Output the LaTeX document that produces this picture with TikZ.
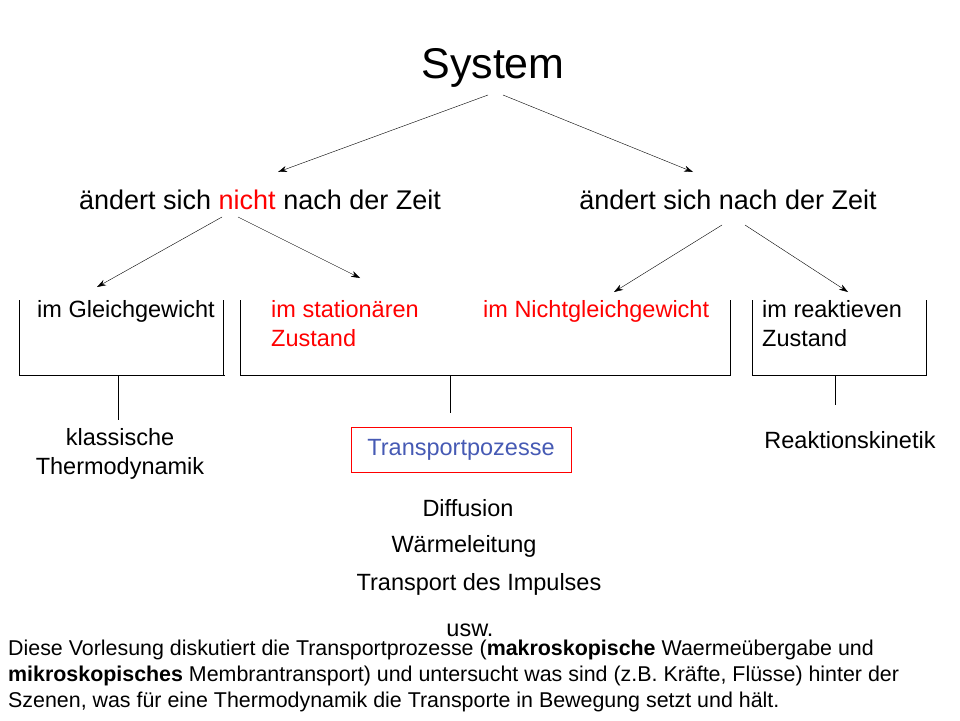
\documentclass[tikz,border=0pt]{standalone}
\usepackage{fontspec}
\setmainfont{Liberation Sans}
\usetikzlibrary{arrows.meta}
\definecolor{tpblue}{RGB}{70,90,180}
\tikzset{every node/.style={inner sep=0pt},
  arr/.style={-{Stealth[length=9pt,width=6pt]}, thin},
  brk/.style={thin},
  lbl/.style={font=\fontsize{23.5}{29}\selectfont, align=left, anchor=north west},
  sub/.style={font=\fontsize{23.5}{29}\selectfont, align=center}}
\begin{document}
\begin{tikzpicture}[x=1pt,y=-1pt]
\useasboundingbox (0,0) rectangle (960,720);
% top
\node[font=\fontsize{43}{48}\selectfont] (sys) at (493,68) {System};
\node[font=\fontsize{27}{32}\selectfont] (nicht) at (260,200) {ändert sich \textcolor{red}{nicht} nach der Zeit};
\node[font=\fontsize{27}{32}\selectfont] (zeit) at (728,200) {ändert sich nach der Zeit};
\coordinate (s1) at (488,95); \coordinate (s2) at (503,95);
\coordinate (n0) at (278,172); \coordinate (z0) at (693,172);
\draw[arr] (s1) -- (n0);
\draw[arr] (s2) -- (z0);
\coordinate (n1) at (222,217); \coordinate (n2) at (238,217);
\coordinate (z1) at (722,225); \coordinate (z2) at (745,225);
\coordinate (g0) at (97,287); \coordinate (st0) at (360,278);
\coordinate (ng0) at (614,292); \coordinate (r0) at (848,292);
\draw[arr] (n1) -- (g0);
\draw[arr] (n2) -- (st0);
\draw[arr] (z1) -- (ng0);
\draw[arr] (z2) -- (r0);
% brackets
\draw[brk] (19,300) -- (19,375) -- (225,375);
\draw[brk] (223,300) -- (223,375);
\draw[brk] (240,300) -- (240,375) -- (730,375) -- (730,300);
\draw[brk] (752,300) -- (752,375) -- (926,375) -- (926,300);
\draw[brk] (118,375) -- (118,420);
\draw[brk] (450,375) -- (450,413);
\draw[brk] (835,375) -- (835,405);
% states
\node[lbl] (gg) at (37,300) {im Gleichgewicht};
\node[lbl, text=red] (stat) at (271,300) {im stationären\\Zustand};
\node[lbl, text=red] (ngg) at (483,300) {im Nichtgleichgewicht};
\node[lbl] (reak) at (762,300) {im reaktieven\\Zustand};
% results
\node[sub] (klass) at (120,454) {klassische\\Thermodynamik};
\node[sub, draw=red, thick, text=tpblue, minimum width=220pt, minimum height=45pt] (trans) at (461,449.5) {Transportpozesse};
\node[sub] (rk) at (850,440) {Reaktionskinetik};
\node[sub] (diff) at (468,508) {Diffusion};
\node[sub] (waerm) at (464,546) {Wärmeleitung};
\node[sub] (imp) at (479,584) {Transport des Impulses};
\node[sub] (usw) at (470,630) {usw.};
% note
\node[anchor=north west, align=left, font=\fontsize{21.4}{26}\selectfont] (note) at (8,640)
 {Diese Vorlesung diskutiert die Transportprozesse (\textbf{makroskopische} Waermeübergabe und\\
  \textbf{mikroskopisches} Membrantransport) und untersucht was sind (z.B. Kräfte, Flüsse) hinter der\\
  Szenen, was für eine Thermodynamik die Transporte in Bewegung setzt und hält.};
\end{tikzpicture}
\end{document}
